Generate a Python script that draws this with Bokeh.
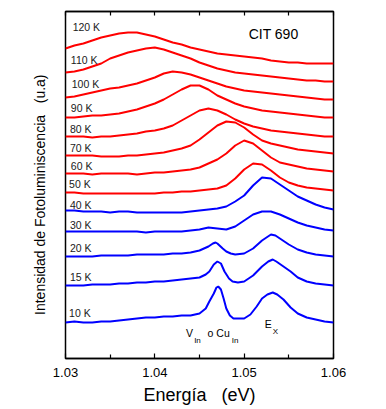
from bokeh.plotting import figure
from bokeh.models import FixedTicker, LinearAxis, Label, Range1d, ColumnDataSource
from bokeh.core.properties import value
from bokeh.embed import file_html
from bokeh.resources import INLINE

FONT = "Liberation Sans"

# ---- data: photoluminescence spectra (energy in eV, intensity in a.u., vertically offset) ----
energy = [1.030, 1.031, 1.032, 1.033, 1.034, 1.035, 1.036, 1.037, 1.038, 1.039, 1.040,
          1.041, 1.042, 1.043, 1.044, 1.045, 1.046, 1.047, 1.048, 1.049, 1.050,
          1.051, 1.052, 1.053, 1.054, 1.055, 1.056, 1.057, 1.058, 1.059, 1.060]

i_120K = [310, 313, 315, 318, 321, 323, 325, 326, 326, 324, 322, 319, 316, 314, 311, 309,
          307, 305, 304, 303, 302, 301, 300, 298, 297, 296, 296, 295, 295, 295, 295]
i_110K = [286, 287, 289, 292, 295, 300, 303, 306, 308, 310, 311, 309, 306, 303, 300, 296,
          293, 290, 288, 286, 285, 284, 283, 282, 281, 280, 279, 278, 278, 277, 277]
i_100K = [261, 262, 264, 266, 268, 270, 271, 273, 275, 278, 281, 285, 287, 286, 284, 281,
          278, 275, 272, 270, 268, 267, 266, 265, 264, 263, 262, 261, 260, 259, 259]
i_90K = [241, 241, 242, 243, 243, 244, 245, 247, 249, 252, 255, 259, 264, 269, 273, 273,
         269, 263, 259, 255, 252, 250, 248, 247, 246, 245, 244, 243, 242, 241, 241]
i_80K = [222, 222, 222, 221, 222, 222, 223, 224, 225, 227, 228, 230, 233, 238, 243, 248,
         250, 248, 244, 239, 235, 232, 230, 228, 227, 226, 225, 224, 223, 222, 222]
i_70K = [203, 203, 203, 203, 202, 202, 202, 203, 203, 204, 205, 206, 208, 210, 213, 219,
         226, 233, 237, 236, 231, 224, 218, 215, 213, 211, 209, 208, 207, 206, 205]
i_60K = [185, 185, 185, 184, 185, 185, 185, 185, 184, 185, 186, 186, 187, 188, 189, 191,
         195, 199, 205, 213, 218, 215, 208, 201, 196, 194, 192, 190, 189, 188, 187]
i_50K = [166, 166, 165, 165, 165, 165, 165, 165, 165, 165, 165, 166, 166, 167, 167, 168,
         169, 170, 173, 180, 189, 195, 194, 188, 181, 176, 173, 171, 170, 169, 168]
i_40K = [148, 148, 147, 147, 147, 146, 147, 147, 146, 146, 146, 146, 146, 146, 147, 148,
         149, 150, 152, 157, 163, 173, 181, 180, 174, 168, 162, 158, 154, 151, 149]
i_30K = [127, 127, 127, 127, 127, 127, 127, 127, 127, 126, 127, 127, 127, 127, 128, 129,
         131, 130, 129, 132, 138, 144, 147, 147, 144, 140, 136, 133, 131, 129, 128]

energy_20K = [1.030, 1.031, 1.032, 1.033, 1.034, 1.035, 1.036, 1.037, 1.038, 1.039, 1.040,
              1.041, 1.042, 1.043, 1.044, 1.045, 1.046, 1.0465, 1.0468, 1.0470, 1.0476,
              1.0480, 1.0485, 1.0490, 1.0500, 1.0510, 1.0520, 1.0530, 1.0535, 1.0540,
              1.0550, 1.0560, 1.0570, 1.0580, 1.0590, 1.0600]
i_20K = [102, 102, 102, 102, 103, 103, 103, 103, 104, 104, 104, 104, 105, 105, 106, 108,
         112, 115, 116, 115, 110, 107, 105, 104, 105, 110, 118, 124, 123, 120, 114, 109,
         106, 104, 103, 102]

energy_15K = [1.030, 1.031, 1.032, 1.033, 1.034, 1.035, 1.036, 1.037, 1.038, 1.039, 1.040,
              1.041, 1.042, 1.043, 1.044, 1.045, 1.0457, 1.0461, 1.0466, 1.0470, 1.0474,
              1.0478, 1.0483, 1.0487, 1.0493, 1.0500, 1.0510, 1.0520, 1.0527, 1.0532,
              1.0536, 1.0544, 1.0552, 1.0560, 1.0570, 1.0580, 1.0590, 1.0600]
i_15K = [73, 73, 73, 74, 74, 74, 75, 75, 76, 76, 77, 77, 78, 79, 80, 81, 84, 87, 94, 97,
         95, 87, 80, 77, 76, 77, 83, 92, 97, 99, 97, 92, 87, 81, 77, 75, 74, 73]

energy_10K = [1.030, 1.031, 1.032, 1.033, 1.034, 1.035, 1.036, 1.037, 1.038, 1.039, 1.040,
              1.041, 1.042, 1.043, 1.044, 1.045, 1.0457, 1.0461, 1.0466, 1.0469, 1.0471,
              1.0474, 1.0477, 1.0480, 1.0484, 1.0488, 1.0493, 1.0500, 1.0507, 1.0514,
              1.0520, 1.0526, 1.0532, 1.0537, 1.0544, 1.0552, 1.0560, 1.0570, 1.0580,
              1.0590, 1.0600]
i_10K = [36, 37, 36, 36, 37, 37, 38, 39, 40, 41, 41, 42, 42, 43, 43, 45, 50, 57, 65, 71,
         72, 69, 60, 50, 43, 40, 40, 40, 44, 52, 60, 64, 66, 64, 59, 51, 45, 41, 39, 37, 36]

temperature_labels = ["120 K", "110 K", "100 K", "90 K", "80 K", "70 K", "60 K",
                      "50 K", "40 K", "30 K", "20 K", "15 K", "10 K"]

x_ticks = [1.03, 1.04, 1.05, 1.06]
x_minor_ticks = [1.035, 1.045, 1.055]

# ---- layout (positions of the temperature labels) ----
label_x = [1.0308, 1.0306, 1.0307, 1.0306, 1.0305, 1.0305, 1.0306,
           1.0304, 1.0305, 1.0305, 1.0305, 1.0305, 1.0304]
label_y = [332, 299, 275, 251, 230, 211, 193, 175, 154, 134, 111, 82, 46]

RED = "#ff0000"
BLUE = "#0000ff"

curves = [
    (energy, i_120K, RED), (energy, i_110K, RED), (energy, i_100K, RED),
    (energy, i_90K, RED), (energy, i_80K, RED), (energy, i_70K, RED),
    (energy, i_60K, RED), (energy, i_50K, RED),
    (energy, i_40K, BLUE), (energy, i_30K, BLUE),
    (energy_20K, i_20K, BLUE), (energy_15K, i_15K, BLUE), (energy_10K, i_10K, BLUE),
]

p = figure(width=386, height=409,
           x_range=Range1d(1.03, 1.06), y_range=Range1d(0, 347),
           output_backend="svg", toolbar_location=None,
           min_border_left=65, min_border_right=53,
           min_border_top=11, min_border_bottom=51)

p.background_fill_color = "white"
p.border_fill_color = "white"
p.outline_line_color = "black"
p.outline_line_width = 1.5
p.xgrid.visible = False
p.ygrid.visible = False

# bottom axis
xa = p.xaxis[0]
xa.ticker = FixedTicker(ticks=x_ticks, minor_ticks=x_minor_ticks)
xa.axis_line_color = "black"
xa.axis_line_width = 1.5
xa.major_tick_in = 5
xa.major_tick_out = 0
xa.minor_tick_in = 4
xa.minor_tick_out = 0
xa.major_tick_line_width = 1.2
xa.minor_tick_line_width = 1.2
xa.major_tick_line_color = "black"
xa.minor_tick_line_color = "black"
xa.major_label_text_font = FONT
xa.major_label_text_font_size = "13px"
xa.major_label_text_color = "black"
xa.major_label_standoff = 9
xa.axis_label = "Energía \u00a0 (eV)"
xa.axis_label_text_font = FONT
xa.axis_label_text_font_size = "18px"
xa.axis_label_text_font_style = "normal"
xa.axis_label_text_color = "black"
xa.axis_label_standoff = 5

# left axis: title only
ya = p.yaxis[0]
ya.ticker = FixedTicker(ticks=[])
ya.axis_line_color = None
ya.major_tick_line_color = None
ya.minor_tick_line_color = None
ya.major_label_standoff = 0
ya.axis_label = "Intensidad de Fotoluminiscencia \u00a0 (u.a)\u00a0\u00a0\u00a0\u00a0\u00a0"
ya.axis_label_text_font = FONT
ya.axis_label_text_font_size = "14px"
ya.axis_label_text_font_style = "normal"
ya.axis_label_text_color = "black"
ya.axis_label_standoff = 18

# top axis: inward ticks only
top = LinearAxis(ticker=FixedTicker(ticks=x_ticks, minor_ticks=x_minor_ticks),
                 major_tick_in=4, major_tick_out=0, minor_tick_in=4, minor_tick_out=0,
                 major_tick_line_width=1.2, minor_tick_line_width=1.2,
                 major_label_text_font_size="1px", major_label_text_color=None,
                 major_label_standoff=0,
                 axis_line_color="black", axis_line_width=1.5)
p.add_layout(top, "above")

for ex, iy, col in curves:
    p.line(ex, iy, line_color=col, line_width=2)

src = ColumnDataSource(dict(x=label_x, y=label_y, t=temperature_labels))
p.text(x="x", y="y", text="t", source=src, text_font=value(FONT),
       text_font_size="10.5px", text_color="#1a1a1a",
       text_baseline="middle", text_align="left")

def add_label(x, y, text, size):
    p.add_layout(Label(x=x, y=y, text=text, text_font=FONT, text_font_size=size,
                       text_color="black", text_baseline="middle", text_align="left"))

add_label(1.0505, 325, "CIT 690", "14px")
add_label(1.0435, 26, "V", "10.5px")
add_label(1.0444, 18, "In", "8px")
add_label(1.0459, 26, "o  Cu", "10.5px")
add_label(1.0486, 18, "In", "8px")
add_label(1.0523, 35, "E", "10.5px")
add_label(1.0532, 27, "X", "8px")

open("out.html", "w").write(file_html(p, INLINE))
